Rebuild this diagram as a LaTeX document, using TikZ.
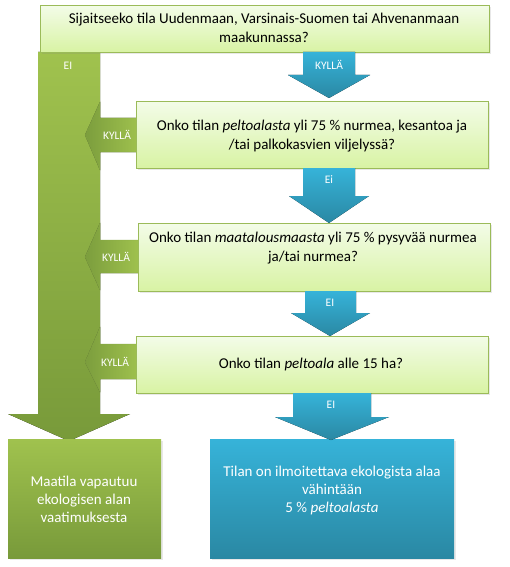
\documentclass[tikz,border=0pt]{standalone}
\usepackage{fontspec}
\setmainfont{Carlito}
\usetikzlibrary{shadows}
\definecolor{grn}{HTML}{9BBB59}
\definecolor{grnlight}{HTML}{A0C24E}
\definecolor{grndark}{HTML}{789A3A}
\definecolor{boxtop}{HTML}{F3FCE8}
\definecolor{boxbot}{HTML}{D8F3A3}
\definecolor{blu}{HTML}{36B3D9}
\definecolor{bludark}{HTML}{2A88A3}
\begin{document}
\begin{tikzpicture}[x=1pt,y=-1pt,
  qbox/.style={draw=grn, line width=1pt, top color=boxtop, bottom color=boxbot,
    drop shadow={opacity=0.18,shadow xshift=1.5pt,shadow yshift=-1.5pt},
    inner sep=0pt, anchor=north west},
  qtext/.style={align=center, font=\fontsize{15}{19.5}\selectfont, inner sep=0pt},
  rtext/.style={align=center, font=\fontsize{15}{18}\selectfont, text=white, inner sep=0pt},
  lbl/.style={font=\fontsize{11.5}{13}\selectfont, text=white, inner sep=0pt},
  barshade/.style={top color=grnlight, bottom color=grndark, draw=none},
  leftarrow/.style={left color=grndark!90!grn, right color=grnlight, draw=grndark!60!grn, line width=0.3pt},
  bluarrow/.style={top color=blu, bottom color=bludark, draw=none}
]
\useasboundingbox (0,0) rectangle (509,567);

% green bar with down arrow
\fill[barshade] (38,52) -- (100,52) -- (100,414) -- (130,414) -- (69,441) -- (8,414) -- (38,414) -- cycle;

% left green arrows
\fill[leftarrow] (140,118) -- (100,118) -- (100,102) -- (85,135) -- (100,170) -- (100,152) -- (140,152) -- cycle;
\fill[leftarrow] (140,240) -- (100,240) -- (100,223) -- (85,257) -- (100,290) -- (100,273) -- (140,273) -- cycle;
\fill[leftarrow] (140,344) -- (100,344) -- (100,327) -- (85,362) -- (100,392) -- (100,379) -- (140,379) -- cycle;

% question boxes
\node[qbox, minimum width=449pt, minimum height=47pt] (q0) at (40,5) {};
\node[qbox, minimum width=352pt, minimum height=67pt] (q1) at (136,101) {};
\node[qbox, minimum width=352pt, minimum height=68pt] (q2) at (138,223) {};
\node[qbox, minimum width=352pt, minimum height=57pt] (q3) at (136,336) {};

% result boxes
\node[anchor=north west, minimum width=153pt, minimum height=119pt, inner sep=0pt,
  top color=grnlight, bottom color=grndark,
  drop shadow={opacity=0.18,shadow xshift=1.5pt,shadow yshift=-1.5pt}] (r1) at (8,439) {};
\node[anchor=north west, minimum width=244pt, minimum height=119pt, inner sep=0pt,
  top color=blu, bottom color=bludark,
  drop shadow={opacity=0.18,shadow xshift=1.5pt,shadow yshift=-1.5pt}] (r2) at (210,439) {};

% blue arrows
\fill[bluarrow] (303,52) -- (355,52) -- (355,75) -- (370,75) -- (329,98) -- (288,75) -- (303,75) -- cycle;
\fill[bluarrow] (303,168) -- (355,168) -- (355,196) -- (369,196) -- (329,223) -- (289,196) -- (303,196) -- cycle;
\fill[bluarrow] (305,291) -- (356,291) -- (356,313) -- (370,313) -- (330,336) -- (291,313) -- (305,313) -- cycle;
\fill[bluarrow] (293,393) -- (371,393) -- (371,417) -- (389,417) -- (331,440) -- (275,417) -- (293,417) -- cycle;

% texts
\node[qtext] (t0) at (264,28) {Sijaitseeko tila Uudenmaan, Varsinais-Suomen tai Ahvenanmaan\\maakunnassa?};
\node[qtext] (t1) at (312,136) {Onko tilan \textit{peltoalasta} yli 75 \% nurmea, kesantoa ja\\/tai palkokasvien viljelyssä?};
\node[qtext] (t2) at (313,248) {Onko tilan \textit{maatalousmaasta} yli 75 \% pysyvää nurmea\\ja/tai nurmea?};
\node[qtext] (t3) at (311,364) {Onko tilan \textit{peltoala} alle 15 ha?};
\node[rtext] (t4) at (84,499) {Maatila vapautuu\\ekologisen alan\\vaatimuksesta};
\node[rtext] (t5) at (332,490) {Tilan on ilmoitettava ekologista alaa\\vähintään\\5 \% \textit{peltoalasta}};

% labels
\node[lbl] (l0) at (68,66) {EI};
\node[lbl] (l1) at (329,65) {KYLLÄ};
\node[lbl] (l2) at (329,180) {Ei};
\node[lbl] (l3) at (330,303) {EI};
\node[lbl] (l4) at (331,405) {EI};
\node[lbl] (k1) at (117,135) {KYLLÄ};
\node[lbl] (k2) at (116,257) {KYLLÄ};
\node[lbl] (k3) at (115,362) {KYLLÄ};
\end{tikzpicture}
\end{document}
